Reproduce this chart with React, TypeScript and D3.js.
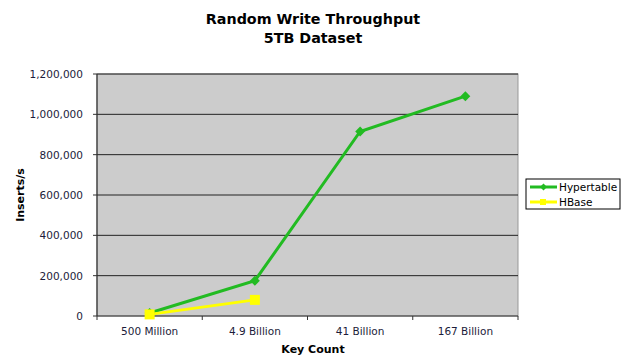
import React from "react";
import * as d3 from "d3";

const categories = ["500 Million", "4.9 Billion", "41 Billion", "167 Billion"];
const hypertable = [15000, 175000, 915000, 1090000];
const hbase = [8000, 80000];
const yTicks = [0, 200000, 400000, 600000, 800000, 1000000, 1200000];
const seriesNames = ["Hypertable", "HBase"];

const W = 623, H = 355;
const L = 97, R = 518, T = 74, B = 316;
const font = "Verdana, 'DejaVu Sans', sans-serif";
const green = "#22bb22";
const yellow = "#ffff00";

export default function App() {
  const x = d3.scaleBand<string>().domain(categories).range([L, R]);
  const y = d3.scaleLinear().domain([0, 1200000]).range([B, T]);
  const cx = (c: string) => (x(c) as number) + x.bandwidth() / 2;
  const line = d3.line<number>().x((_, i) => cx(categories[i])).y((d) => y(d));
  const fmt = d3.format(",");
  const boundaries = [...categories.map((c) => x(c) as number), R];

  return (
    <svg width={W} height={H} style={{ position: "absolute", left: 0, top: 0, background: "#fff" }}>
      <text x={313} y={24} textAnchor="middle" fontFamily={font} fontWeight="bold" fontSize={14.3}>Random Write Throughput</text>
      <text x={313} y={43} textAnchor="middle" fontFamily={font} fontWeight="bold" fontSize={14.3}>5TB Dataset</text>
      <rect x={L} y={T} width={R - L} height={B - T} fill="#cccccc" stroke="#999" strokeWidth={1} />
      {yTicks.map((t) => (
        <g key={t}>
          {t > 0 && <line x1={L} x2={R} y1={y(t)} y2={y(t)} stroke="#222" strokeWidth={1} />}
          <line x1={L - 4} x2={L} y1={y(t)} y2={y(t)} stroke="#333" />
          <text x={L - 14} y={y(t) + 4} textAnchor="end" fontFamily={font} fontSize={10.5} fill="#1c1c3a">{fmt(t)}</text>
        </g>
      ))}
      <line x1={L} x2={L} y1={T} y2={B} stroke="#333" strokeWidth={1.2} />
      <line x1={L} x2={R} y1={B} y2={B} stroke="#333" strokeWidth={1.2} />
      {boundaries.map((b, i) => (
        <line key={i} x1={b} x2={b} y1={B} y2={B + 4} stroke="#333" />
      ))}
      {categories.map((c) => (
        <text key={c} x={cx(c)} y={335} textAnchor="middle" fontFamily={font} fontSize={10.5} fill="#1c1c3a">{c}</text>
      ))}
      <text x={313} y={353} textAnchor="middle" fontFamily={font} fontWeight="bold" fontSize={11}>Key Count</text>
      <text transform={`translate(24,${(T + B) / 2}) rotate(-90)`} textAnchor="middle" fontFamily={font} fontWeight="bold" fontSize={11}>Inserts/s</text>
      <path d={line(hypertable) as string} fill="none" stroke={green} strokeWidth={3} />
      <path d={line(hbase) as string} fill="none" stroke={yellow} strokeWidth={3} />
      {hypertable.map((v, i) => (
        <rect key={i} x={-3.5} y={-3.5} width={7} height={7} fill={green}
          transform={`translate(${cx(categories[i])},${y(v)}) rotate(45)`} />
      ))}
      {hbase.map((v, i) => (
        <rect key={i} x={cx(categories[i]) - 5} y={y(v) - 5} width={10} height={10} fill={yellow} />
      ))}
      <rect x={526} y={179} width={94} height={30} fill="#fff" stroke="#000" strokeWidth={1} />
      {seriesNames.map((s, i) => {
        const ly = 187 + i * 15;
        const col = i === 0 ? green : yellow;
        return (
          <g key={s}>
            <line x1={530} x2={557} y1={ly} y2={ly} stroke={col} strokeWidth={3} />
            {i === 0 ? (
              <rect x={-2.5} y={-2.5} width={5} height={5} fill={col} transform={`translate(543.5,${ly}) rotate(45)`} />
            ) : (
              <rect x={540} y={ly - 3} width={6} height={6} fill={col} />
            )}
            <text x={559} y={ly + 4} fontFamily={font} fontSize={10.5}>{s}</text>
          </g>
        );
      })}
    </svg>
  );
}
